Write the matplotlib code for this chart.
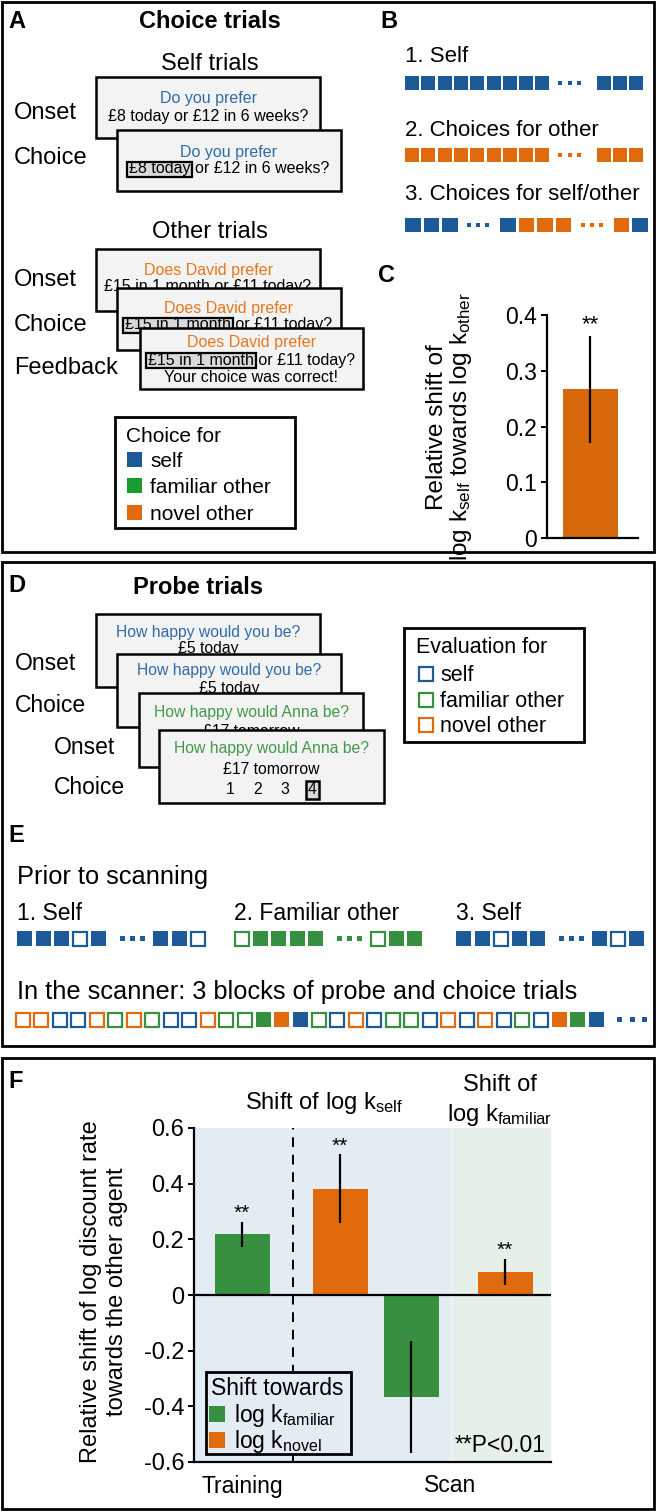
import matplotlib
matplotlib.use('Agg')
import matplotlib.pyplot as plt
from matplotlib.patches import Rectangle
from matplotlib.ticker import FuncFormatter

plt.rcParams['font.family'] = ['Liberation Sans', 'DejaVu Sans']
plt.rcParams['mathtext.fontset'] = 'custom'
plt.rcParams['mathtext.rm'] = 'Liberation Sans'
plt.rcParams['mathtext.it'] = 'Liberation Sans:italic'
plt.rcParams['axes.unicode_minus'] = False

# ---------------- data ----------------
agent_labels = ['self', 'familiar other', 'novel other']

self_question = 'Do you prefer'
self_options = '£8 today or £12 in 6 weeks?'
self_pick = '£8 today'
other_question = 'Does David prefer'
other_options = '£15 in 1 month or £11 today?'
other_pick = '£15 in 1 month'
feedback = 'Your choice was correct!'

probe_self = 'How happy would you be?'
probe_self_amount = '£5 today'
probe_other = 'How happy would Anna be?'
probe_other_amount = '£17 tomorrow'
ratings = ['1', '2', '3', '4']
rating_pick = '4'

# S/F/N = choice (filled) for self/familiar/novel, lower case = probe (hollow), '.' = more trials
b_titles = ['1. Self', '2. Choices for other', '3. Choices for self/other']
b_rows = ['SSSSSSSSS.SSS', 'NNNNNNNNN.NNN', 'SSS.SNNN.NS']

c_mean = 0.267
c_err = 0.096

e_titles = ['1. Self', '2. Familiar other', '3. Self']
e_rows = ['SSSsS.SSs', 'fFFFF.fFF', 'SSsSS.SsS']
e_scan = 'nnssnfnfssnffFNSfsnsffsnsnsfsNFS.'

f_periods = ['Training', 'Scan']
f_means = [0.219, 0.381, -0.367, 0.083]
f_errs = [0.045, 0.124, 0.200, 0.047]
f_agent = ['f', 'n', 'f', 'n']
f_sig = [True, True, False, True]
f_legend = ['log k$_{\\mathrm{familiar}}$', 'log k$_{\\mathrm{novel}}$']

# ---------------- style ----------------
BLUE = '#1c5a98'
GREEN = '#379040'
ORANGE = '#e06a0c'
COL = {'s': BLUE, 'f': GREEN, 'n': ORANGE}
TXT_BLUE = '#2f6ca8'
TXT_ORANGE = '#e8771c'
TXT_GREEN = '#43994a'
CARD = '#f3f3f3'
HIGHLIGHT = '#d9d9d9'
SCAN_BG = '#e3ebf3'

W, H = 656, 1511
fig = plt.figure(figsize=(W / 100, H / 100), dpi=100)


def pixel_layer(z):
    ax = fig.add_axes([0, 0, 1, 1], zorder=z)
    ax.set_xlim(0, W)
    ax.set_ylim(H, 0)
    ax.axis('off')
    return ax


bg = pixel_layer(0)
renderer = fig.canvas.get_renderer()


def px_axes(x0, y0, x1, y1):
    return fig.add_axes([x0 / W, 1 - y1 / H, (x1 - x0) / W, (y1 - y0) / H], zorder=1)


def txt(x, y, s, size, ax=None, **kw):
    kw.setdefault('va', 'center')
    return (ax or bg).text(x, y, s, fontsize=size, **kw)


def card(x, y, w, h, z, lines, size=11.5):
    bg.add_patch(Rectangle((x, y), w, h, fc=CARD, ec='black', lw=1.8, zorder=z))
    out = []
    for dy, s, c in lines:
        out.append(bg.text(x + w / 2, y + dy, s, color=c, fontsize=size,
                           ha='center', va='center', zorder=z + 0.6))
    return out


def mark_prefix(t, prefix):
    # grey box behind the chosen option at the start of a text line
    bb = t.get_window_extent(renderer)
    probe = bg.text(0, 0, prefix, fontsize=t.get_fontsize())
    w = probe.get_window_extent(renderer).width
    probe.remove()
    inv = bg.transData.inverted()
    (x0, y0), (x1, y1) = inv.transform([(bb.x0 - 2, bb.y0), (bb.x0 + w + 2, bb.y1)])
    bg.add_patch(Rectangle((x0, min(y0, y1)), x1 - x0, abs(y1 - y0), fc=HIGHLIGHT,
                           ec='black', lw=1.6, zorder=t.get_zorder() - 0.3))


def trial_row(x, ytop, seq, w, h, pitch, gap, dots, dot=4.5):
    col = BLUE
    for c in seq:
        if c == '.':
            for d in dots:
                bg.add_patch(Rectangle((x + d, ytop + h / 2 - dot / 2), dot, dot, fc=col, ec='none'))
            x += gap
            continue
        col = COL[c.lower()]
        if c.isupper():
            bg.add_patch(Rectangle((x, ytop), w, h, fc=col, ec='none'))
        else:
            bg.add_patch(Rectangle((x + 0.5, ytop + 0.5), w - 1, h - 1, fc='white', ec=col, lw=1.6))
        x += pitch


# panel frames
for y0, y1 in [(1.5, 552), (562, 1046), (1058, 1508.5)]:
    bg.add_patch(Rectangle((1.5, y0), 652, y1 - y0, fill=False, ec='black', lw=2))

# ---------------- A ----------------
txt(8, 21, 'A', 17, weight='bold')
txt(210, 21, 'Choice trials', 17, weight='bold', ha='center')
txt(210, 64, 'Self trials', 17, ha='center')
txt(14, 113, 'Onset', 17)
txt(14, 158, 'Choice', 17)
card(96, 77, 224, 61, 2, [(21, self_question, TXT_BLUE), (40, self_options, 'black')])
t = card(117, 130, 224, 61, 4, [(23, self_question, TXT_BLUE), (39, self_options, 'black')])
mark_prefix(t[1], self_pick)

txt(210, 232, 'Other trials', 17, ha='center')
txt(14, 280, 'Onset', 17)
txt(14, 325, 'Choice', 17)
txt(14, 368, 'Feedback', 17)
card(96, 249, 224, 62, 2, [(21, other_question, TXT_ORANGE), (38, other_options, 'black')])
t = card(117, 288, 224, 62, 4, [(20, other_question, TXT_ORANGE), (37, other_options, 'black')])
mark_prefix(t[1], other_pick)
t = card(140, 328, 223, 61, 6, [(14, other_question, TXT_ORANGE), (32, other_options, 'black'),
                                (50, feedback, 'black')])
mark_prefix(t[1], other_pick)

bg.add_patch(Rectangle((115, 417), 180, 111, fill=False, ec='black', lw=2))
txt(126, 442, 'Choice for', 15, va='baseline')
for i, (lab, c) in enumerate(zip(agent_labels, [BLUE, '#1a9d30', ORANGE])):
    top = [452, 478, 505][i]
    bg.add_patch(Rectangle((127, top), 15, 15, fc=c, ec='none'))
    txt(150, top + 15, lab, 15, va='baseline')

# ---------------- B ----------------
txt(380, 22, 'B', 17, weight='bold')
for title, ty in zip(b_titles, [57, 130, 195]):
    txt(405, ty, title, 16)
trial_row(405, 76, b_rows[0], 14, 14, 16.3, 45, [6.5, 16, 25.5], 4)
trial_row(405, 148, b_rows[1], 14, 14, 16.3, 45, [6.5, 16, 25.5], 4)
trial_row(405, 218, b_rows[2], 15.5, 14, 18.5, 39.5, [6.5, 15.5, 24.5], 4)

# ---------------- C ----------------
txt(378, 275, 'C', 17, weight='bold')
axc = px_axes(547, 315, 638, 538)
axc.bar([0.475], [c_mean], width=0.6, color='#d6670a')
axc.errorbar([0.475], [c_mean], yerr=[c_err], fmt='none', ecolor='black', elinewidth=1.6, capsize=0)
axc.annotate('**', (0.475, c_mean + c_err), xytext=(0, 4), textcoords='offset points',
             ha='center', va='baseline', fontsize=16)
axc.set_xlim(0, 1)
axc.set_ylim(0, 0.4)
axc.set_yticks([0, 0.1, 0.2, 0.3, 0.4])
axc.yaxis.set_major_formatter(FuncFormatter(lambda v, p: f'{v:g}'))
axc.set_xticks([])
axc.tick_params(axis='y', labelsize=16.5, length=4, width=1.4, pad=3)
for s in ['top', 'right']:
    axc.spines[s].set_visible(False)
for s in ['left', 'bottom']:
    axc.spines[s].set_linewidth(1.6)
axc.patch.set_alpha(0)
txt(450, 427, 'Relative shift of\nlog k$_{\\mathrm{self}}$ towards log k$_{\\mathrm{other}}$', 17.5,
    rotation=90, ha='center', linespacing=1.05)

# ---------------- D ----------------
txt(8, 585, 'D', 17, weight='bold')
txt(198, 588, 'Probe trials', 17, weight='bold', ha='center')
txt(15, 664, 'Onset', 16.5)
txt(15, 706, 'Choice', 16.5)
txt(54, 747, 'Onset', 16.5)
txt(54, 787, 'Choice', 16.5)
card(96, 614, 224, 73, 2, [(18, probe_self, TXT_BLUE), (35, probe_self_amount, 'black')], 11.3)
card(117, 654, 224, 73, 4, [(16, probe_self, TXT_BLUE), (35, probe_self_amount, 'black')], 11.3)
card(139, 693, 224, 74, 6, [(19, probe_other, TXT_GREEN), (39, probe_other_amount, 'black')], 11.3)
card(159, 730, 225, 73, 8, [(18, probe_other, TXT_GREEN), (39, probe_other_amount, 'black')], 11.3)
for i, r in enumerate(ratings):
    box = dict(boxstyle='square,pad=0.12', fc=HIGHLIGHT, ec='black', lw=1.8) if r == rating_pick else None
    bg.text(271.5 + (i - 1.5) * 27.3, 790, r, fontsize=11.3, ha='center', va='center', zorder=9, bbox=box)

bg.add_patch(Rectangle((404, 628), 180, 114, fill=False, ec='black', lw=2))
txt(416, 653, 'Evaluation for', 15.5, va='baseline')
for i, lab in enumerate(agent_labels):
    top = [667, 693, 718][i]
    c = [BLUE, GREEN, ORANGE][i]
    bg.add_patch(Rectangle((419, top), 14, 14, fc='white', ec=c, lw=1.6))
    txt(440, top + 14, lab, 15.5, va='baseline')

# ---------------- E ----------------
txt(8, 835, 'E', 17, weight='bold')
txt(17, 877, 'Prior to scanning', 18.3)
for title, x0, seq in zip(e_titles, [17, 234, 456], e_rows):
    txt(x0, 913, title, 16.5)
    trial_row(x0, 931, seq, 15, 15, 18.5, 43.5, [10, 20, 30], 5)
txt(17, 992, 'In the scanner: 3 blocks of probe and choice trials', 18.3)
trial_row(15, 1012, e_scan, 15, 15, 18.5, 45, [10, 22.5, 35], 5)

# ---------------- F ----------------
txt(8, 1082, 'F', 17, weight='bold')
axf = px_axes(194, 1128, 551, 1462)
axf.set_xlim(0, 357)
axf.set_ylim(-0.6, 0.6)
axf.axvspan(0, 256, color=SCAN_BG, zorder=0)
axf.axvspan(258, 357, color='#e7efe9', zorder=0)
axf.axvline(99, color='black', lw=1.4, ls=(0, (5, 4)), zorder=1)
f_pos = [48, 146, 217, 311]
axf.bar(f_pos, f_means, width=55, color=[COL[a] for a in f_agent], zorder=2)
axf.errorbar(f_pos, f_means, yerr=f_errs, fmt='none', ecolor='black', elinewidth=1.6, capsize=0, zorder=3)
for x, m, e, sig in zip(f_pos, f_means, f_errs, f_sig):
    if sig:
        axf.annotate('**', (x, m + e), xytext=(0, 2), textcoords='offset points',
                     ha='center', va='baseline', fontsize=15)
axf.axhline(0, color='black', lw=1.6, zorder=3)
axf.set_yticks([-0.6, -0.4, -0.2, 0, 0.2, 0.4, 0.6])
axf.yaxis.set_major_formatter(FuncFormatter(lambda v, p: f'{v:g}'))
axf.set_xticks([48, 256], labels=f_periods)
axf.tick_params(axis='x', length=0, labelsize=16.5, pad=9)
axf.tick_params(axis='y', labelsize=17, length=4, width=1.4, pad=3)
for s in ['top', 'right']:
    axf.spines[s].set_visible(False)
for s in ['left', 'bottom']:
    axf.spines[s].set_linewidth(1.6)

txt(104, 1292, 'Relative shift of log discount rate\ntowards the other agent', 17,
    rotation=90, ha='center')
txt(324, 1103, 'Shift of log k$_{\\mathrm{self}}$', 17, ha='center')
txt(500, 1085, 'Shift of', 17, ha='center')
txt(500, 1115, 'log k$_{\\mathrm{familiar}}$', 17, ha='center')

# legend and note sit on top of the bar chart
fg = pixel_layer(2)
txt(546, 1445, '**P<0.01', 16.5, ax=fg, ha='right')
fg.add_patch(Rectangle((206, 1372), 145, 82, fc=SCAN_BG, ec='black', lw=2))
txt(211, 1395, 'Shift towards', 16.5, ax=fg, va='baseline')
for lab, a, top in zip(f_legend, ['f', 'n'], [1406, 1432]):
    fg.add_patch(Rectangle((209, top), 16, 16, fc=COL[a], ec='none'))
    txt(234, top + 16, lab, 16.5, ax=fg, va='baseline')

fig.savefig('out.png', dpi=100)
